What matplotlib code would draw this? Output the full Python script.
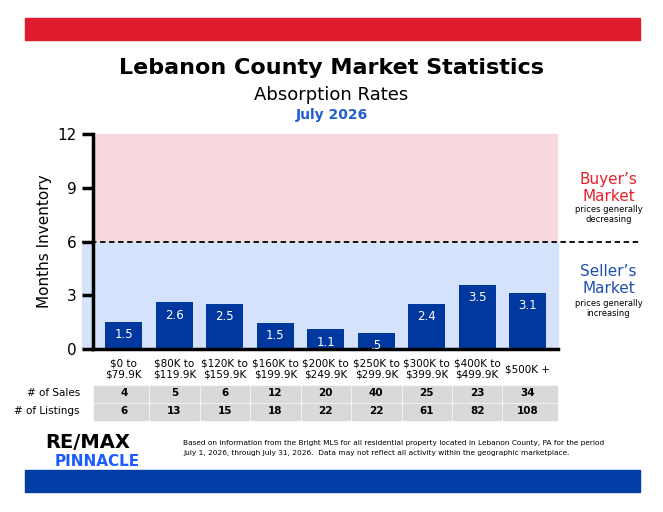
import matplotlib
matplotlib.use("Agg")
import matplotlib.pyplot as plt
from matplotlib.patches import Rectangle
from matplotlib.transforms import blended_transform_factory

# data
ranges = ["$0 to\n$79.9K", "$80K to\n$119.9K", "$120K to\n$159.9K", "$160K to\n$199.9K",
          "$200K to\n$249.9K", "$250K to\n$299.9K", "$300K to\n$399.9K", "$400K to\n$499.9K",
          "$500K +"]
months = [1.5, 2.6, 2.5, 1.45, 1.1, 0.9, 2.5, 3.6, 3.15]
month_labels = ["1.5", "2.6", "2.5", "1.5", "1.1", ".5", "2.4", "3.5", "3.1"]
sales = [4, 5, 6, 12, 20, 40, 25, 23, 34]
listings = [6, 13, 15, 18, 22, 22, 61, 82, 108]

BLUE = "#0038a0"
fig = plt.figure(figsize=(6.63, 5.12), dpi=100)
W, H = 663, 512

def fx(px): return px / W
def fy(py): return 1 - py / H

# top/bottom bands
fig.add_artist(Rectangle((fx(25), fy(40)), fx(615), 22 / H, color="#e01b2d", transform=fig.transFigure))
fig.add_artist(Rectangle((fx(25), fy(492)), fx(615), 22 / H, color="#003da5", transform=fig.transFigure))

fig.text(0.5, fy(68), "Lebanon County Market Statistics", ha="center", va="center",
         fontsize=16, fontweight="bold")
fig.text(0.5, fy(95), "Absorption Rates", ha="center", va="center", fontsize=13)
fig.text(0.5, fy(115), "July 2026", ha="center", va="center", fontsize=10,
         fontweight="bold", color="#1f5fd0")

ax = fig.add_axes([fx(92.6), fy(349), fx(558 - 92.6), (349 - 134) / H])
x = list(range(len(months)))
ax.set_xlim(-0.62, 8.6)
ax.set_ylim(0, 12)
ax.add_patch(Rectangle((-0.62, 6), 9.22, 6, color="#f8d8dc", zorder=0))
ax.add_patch(Rectangle((-0.83, 0), 9.43, 6, color="#d4e3fb", zorder=0, clip_on=False))
ax.plot([-0.83, 10.2], [6, 6], ls=(0, (3, 2)), color="black", lw=1.3, clip_on=False)
ax.bar(x, months, width=0.73, color=BLUE, zorder=2)
for xi, v, lab in zip(x, months, month_labels):
    ax.text(xi, v - 0.35, lab, ha="center", va="top", color="white", fontsize=8.5, zorder=3)

ax.set_yticks([0, 3, 6, 9, 12])
ax.set_xticks([])
ax.tick_params(axis="y", length=8, width=2.5, labelsize=11)
for s in ["top", "right"]:
    ax.spines[s].set_visible(False)
ax.spines["left"].set_linewidth(2.5)
ax.spines["bottom"].set_linewidth(2.5)
ax.spines["bottom"].set_bounds(-0.62, 8.6)
ax.set_ylabel("Months Inventory", fontsize=11)

ax.text(9.6, 9.0, "Buyer\u2019s\nMarket", ha="center", va="center", color="#e8202a", fontsize=11)
ax.text(9.6, 7.5, "prices generally\ndecreasing", ha="center", va="center", fontsize=6)
ax.text(9.6, 3.85, "Seller\u2019s\nMarket", ha="center", va="center", color="#1f4fb0", fontsize=11)
ax.text(9.6, 2.25, "prices generally\nincreasing", ha="center", va="center", fontsize=6)

tr = blended_transform_factory(ax.transData, fig.transFigure)
for xi, lab in zip(x, ranges):
    ax.text(xi, fy(369), lab, transform=tr, ha="center", va="center", fontsize=7.5)

rows = [("# of Sales", sales, 385), ("# of Listings", listings, 403)]
for name, vals, top in rows:
    fig.text(fx(80), fy(top + 8.5), name, ha="right", va="center", fontsize=7.5)
    for xi, v in zip(x, vals):
        left = -0.62 if xi == 0 else xi - 0.5
        right = 8.6 if xi == 8 else xi + 0.5
        ax.add_patch(Rectangle((left + 0.02, fy(top + 17)), right - left - 0.04, 16 / H,
                               transform=tr, color="#d9d9d9", clip_on=False))
        ax.text(xi, fy(top + 8.5), str(v), transform=tr, ha="center", va="center",
                fontsize=7.5, fontweight="bold")

# logo
fig.text(fx(45), fy(443), "RE/MAX", ha="left", va="center", fontsize=14, fontweight="bold")
fig.text(fx(55), fy(462), "PINNACLE", ha="left", va="center", fontsize=11,
         fontweight="bold", color="#1a5cff")
fig.text(fx(183), fy(448),
         "Based on information from the Bright MLS for all residential property located in Lebanon County, PA for the period\n"
         "July 1, 2026, through July 31, 2026.  Data may not reflect all activity within the geographic marketplace.",
         ha="left", va="center", fontsize=5.3, linespacing=1.6)

fig.savefig("out.png", dpi=100)
